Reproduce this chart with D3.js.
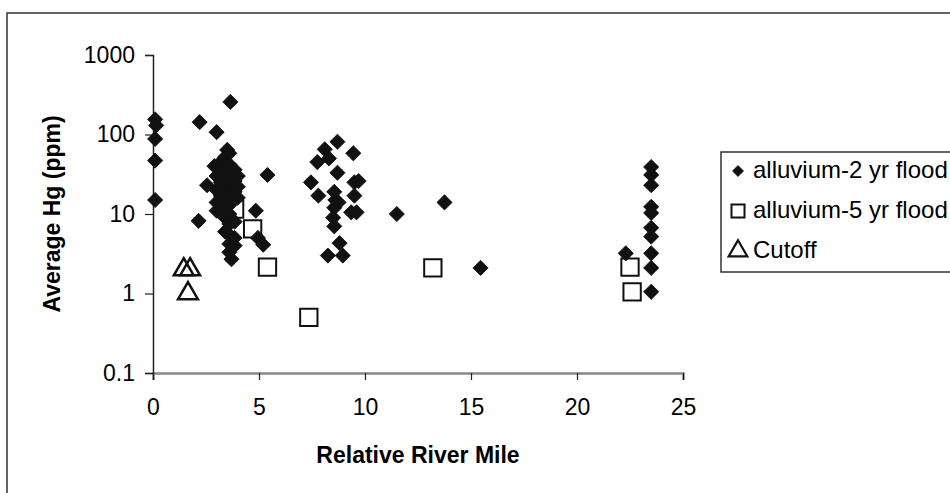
<!DOCTYPE html>
<html>
<head>
<meta charset="utf-8">
<script src="https://cdn.jsdelivr.net/npm/d3@7"></script>
<style>
  html, body { margin: 0; padding: 0; background: #fff; }
  svg { display: block; font-family: "Liberation Sans", Arial, sans-serif; }
</style>
</head>
<body>
<svg id="chart"></svg>
<script>
// ── DATA ─────────────────────────────────────────────────────────────────
const flood2X = [
  0.1, 0.15, 0.1, 0.1, 0.1,
  2.2, 3.0, 3.65, 3.5, 2.55, 2.15,
  2.9, 3.0, 3.0, 3.0, 3.0,
  3.2, 3.2, 3.2, 3.2, 3.2,
  3.4, 3.4, 3.4, 3.4, 3.4, 3.4, 3.4,
  3.6, 3.6, 3.6, 3.6, 3.6, 3.6, 3.6, 3.6, 3.6, 3.6, 3.6,
  3.7, 3.7,
  3.85, 3.85, 3.85, 3.85, 3.85, 3.85,
  4.0, 4.0, 4.0,
  4.85, 4.95, 5.2, 5.4,
  7.45, 7.75, 7.8, 8.1, 8.3, 8.55, 8.6, 8.7, 8.7, 8.55, 8.5, 8.55, 8.8, 8.25, 8.95,
  9.45, 9.5, 9.7, 9.5, 9.35, 9.6, 8.75,
  11.5, 13.75, 15.45, 22.3,
  23.5, 23.5, 23.5, 23.5, 23.5, 23.5, 23.5, 23.5, 23.5, 23.5
];
const flood2Y = [
  155, 130, 88, 47, 15,
  143, 107, 257, 64, 23, 8.2,
  40, 30, 20, 14, 11,
  45, 35, 25, 17, 12,
  52, 38, 28, 21, 15, 9, 6,
  58, 42, 32, 24, 18, 13, 10, 7.5, 5.5, 4.2, 3.3,
  27, 2.7,
  36, 26, 19, 8, 5, 4,
  30, 22, 16,
  11, 5.0, 4.1, 31,
  25, 45, 17, 65, 50, 19, 15, 33, 81, 12, 9, 7, 4.3, 3.0, 3.0,
  58, 25, 26, 17, 10.5, 10.5, 14,
  10, 14, 2.1, 3.2,
  39, 31, 23, 12.3, 10.3, 6.7, 5.2, 3.2, 2.1, 1.05
];

const flood5X = [3.85, 4.7, 5.4, 7.35, 13.2, 22.5, 22.6];
const flood5Y = [11.5, 6.5, 2.15, 0.5, 2.1, 2.15, 1.05];

const cutoffX = [1.45, 1.75, 1.65];
const cutoffY = [2.0, 2.0, 1.0];

const seriesNames = ["alluvium-2 yr flood", "alluvium-5 yr flood", "Cutoff"];
const xTicks = [0, 5, 10, 15, 20, 25];
const yTicks = [0.1, 1, 10, 100, 1000];
const yTickLabels = ["0.1", "1", "10", "100", "1000"];

// ── DIMENSIONS ───────────────────────────────────────────────────────────
const W = 950, H = 493;
const plot = { left: 153, right: 683, top: 55, bottom: 373 };
const FONT = 23;

const svg = d3.select("#chart")
  .attr("width", W)
  .attr("height", H)
  .attr("viewBox", `0 0 ${W} ${H}`);

svg.append("rect")
  .attr("width", W).attr("height", H)
  .attr("fill", "#fff");

// outer chart frame (cut off on the right and bottom)
svg.append("rect")
  .attr("x", 7).attr("y", 13)
  .attr("width", 1000).attr("height", 1000)
  .attr("fill", "none")
  .attr("stroke", "#333")
  .attr("stroke-width", 1.5);

// ── SCALES ───────────────────────────────────────────────────────────────
const x = d3.scaleLinear().domain([0, 25]).range([plot.left, plot.right]);
const y = d3.scaleLog().domain([0.1, 1000]).range([plot.bottom, plot.top]);

// ── AXES ─────────────────────────────────────────────────────────────────
svg.append("g")
  .attr("transform", `translate(0,${plot.bottom})`)
  .call(d3.axisBottom(x).tickValues(xTicks).tickSize(7).tickPadding(19).tickFormat(d => d))
  .call(ax => ax.select(".domain").attr("stroke", "#888").attr("stroke-width", 2.5))
  .call(ax => ax.selectAll(".tick line").attr("stroke", "#222").attr("stroke-width", 1.2))
  .call(ax => ax.selectAll(".tick text")
    .attr("fill", "#000")
    .style("font-size", FONT + "px")
    .style("font-family", "'Liberation Sans', Arial, sans-serif"));

svg.append("g")
  .attr("transform", `translate(${plot.left},0)`)
  .call(d3.axisLeft(y).tickValues(yTicks).tickSize(8).tickPadding(10)
    .tickFormat((d, i) => yTickLabels[i]))
  .call(ax => ax.select(".domain").attr("stroke", "#222").attr("stroke-width", 1.5))
  .call(ax => ax.selectAll(".tick line").attr("stroke", "#222").attr("stroke-width", 1.2))
  .call(ax => ax.selectAll(".tick text")
    .attr("fill", "#000")
    .style("font-size", FONT + "px")
    .style("font-family", "'Liberation Sans', Arial, sans-serif"));

// axis titles
svg.append("text")
  .attr("x", (plot.left + plot.right) / 2)
  .attr("y", 463)
  .attr("text-anchor", "middle")
  .style("font-size", FONT + "px")
  .style("font-weight", "bold")
  .text("Relative River Mile");

svg.append("text")
  .attr("transform", `translate(60,${(plot.top + plot.bottom) / 2}) rotate(-90)`)
  .attr("text-anchor", "middle")
  .style("font-size", FONT + "px")
  .style("font-weight", "bold")
  .text("Average Hg (ppm)");

// ── MARKERS ──────────────────────────────────────────────────────────────
const diamond = d3.symbol().type(d3.symbolSquare).size(115)();
const square  = d3.symbol().type(d3.symbolSquare).size(300)();
const tri     = d3.symbol().type(d3.symbolTriangle).size(170)();

const flood2 = flood2X.map((v, i) => ({ x: v, y: flood2Y[i] }));
const flood5 = flood5X.map((v, i) => ({ x: v, y: flood5Y[i] }));
const cutoff = cutoffX.map((v, i) => ({ x: v, y: cutoffY[i] }));

svg.append("g").selectAll("path")
  .data(flood2)
  .join("path")
    .attr("d", diamond)
    .attr("transform", d => `translate(${x(d.x)},${y(d.y)}) rotate(45)`)
    .attr("fill", "#111")
    .attr("stroke", "#111")
    .attr("stroke-width", 0.8);

svg.append("g").selectAll("path")
  .data(flood5)
  .join("path")
    .attr("d", square)
    .attr("transform", d => `translate(${x(d.x)},${y(d.y)})`)
    .attr("fill", "none")
    .attr("stroke", "#111")
    .attr("stroke-width", 2);

svg.append("g").selectAll("path")
  .data(cutoff)
  .join("path")
    .attr("d", tri)
    .attr("transform", d => `translate(${x(d.x)},${y(d.y)})`)
    .attr("fill", "none")
    .attr("stroke", "#111")
    .attr("stroke-width", 2.5);

// ── LEGEND ───────────────────────────────────────────────────────────────
const legend = svg.append("g").attr("transform", "translate(721,152)");

legend.append("rect")
  .attr("width", 300).attr("height", 120)
  .attr("fill", "#fff")
  .attr("stroke", "#333")
  .attr("stroke-width", 1.5);

const legendMarks = [
  { d: d3.symbol().type(d3.symbolSquare).size(60)(), rot: 45, fill: "#111", sw: 0.8 },
  { d: d3.symbol().type(d3.symbolSquare).size(170)(), rot: 0, fill: "none", sw: 2 },
  { d: d3.symbol().type(d3.symbolTriangle).size(150)(), rot: 0, fill: "none", sw: 2.2 }
];

seriesNames.forEach((name, i) => {
  const cy = 18 + i * 40;
  const m = legendMarks[i];
  legend.append("path")
    .attr("d", m.d)
    .attr("transform", `translate(17,${cy + 1}) rotate(${m.rot})`)
    .attr("fill", m.fill)
    .attr("stroke", "#111")
    .attr("stroke-width", m.sw);
  legend.append("text")
    .attr("x", 32)
    .attr("y", cy + 8)
    .style("font-size", "24px")
    .text(name);
});
</script>
</body>
</html>
